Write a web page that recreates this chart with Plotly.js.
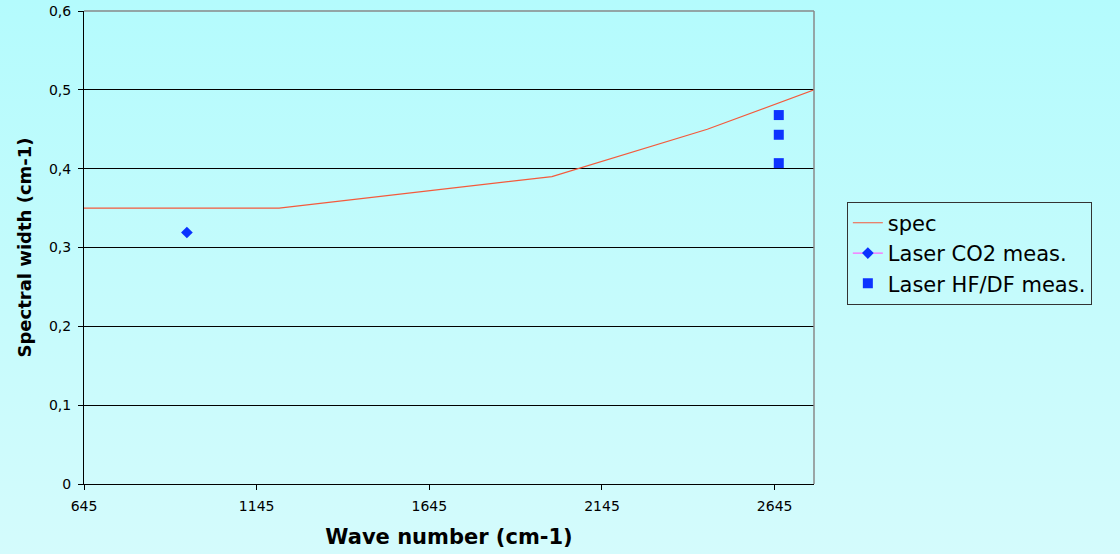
<!DOCTYPE html>
<html>
<head>
<meta charset="utf-8">
<script src="https://cdn.plot.ly/plotly-3.0.1.min.js"></script>
<style>
  html, body { margin: 0; padding: 0; }
  body { width: 1120px; height: 554px; background: linear-gradient(to bottom, #b4fbfd 0%, #c4fbfc 50%, #d4fbfc 100%); }
  #chart { width: 1120px; height: 554px; }
</style>
</head>
<body>
<div id="chart"></div>
<script>
// Data
const specX = [645, 1210, 2000, 2450, 2760];
const specY = [0.35, 0.35, 0.39, 0.45, 0.50];
const co2X = [943];
const co2Y = [0.319];
const hfX = [2657, 2657, 2657];
const hfY = [0.468, 0.443, 0.407];

const xTickVals = [645, 1145, 1645, 2145, 2645];
const xTickText = ['645', '1145', '1645', '2145', '2645'];
const yTickVals = [0, 0.1, 0.2, 0.3, 0.4, 0.5, 0.6];
const yTickText = ['0', '0,1', '0,2', '0,3', '0,4', '0,5', '0,6'];

const FONT = 'DejaVu Sans, Liberation Sans, Arial, sans-serif';

const traces = [
  { x: specX, y: specY, name: 'spec', type: 'scatter', mode: 'lines',
    line: { color: '#f45a3c', width: 1.2 } },
  { x: co2X, y: co2Y, name: 'Laser CO2 meas.', type: 'scatter', mode: 'lines+markers',
    line: { color: '#ff66ff', width: 1.2 },
    marker: { symbol: 'diamond', size: 9, color: '#0a32ff' } },
  { x: hfX, y: hfY, name: 'Laser HF/DF meas.', type: 'scatter', mode: 'markers',
    marker: { symbol: 'square', size: 10, color: '#0d33ff' } }
];

const layout = {
  width: 1120, height: 554,
  paper_bgcolor: 'rgba(0,0,0,0)',
  plot_bgcolor: 'rgba(0,0,0,0)',
  margin: { l: 84, r: 306, t: 11, b: 70 },
  font: { family: FONT, color: '#000' },
  showlegend: true,
  legend: {
    x: 1.045, xanchor: 'left', y: 0.597, yanchor: 'top',
    bgcolor: 'rgba(0,0,0,0)', bordercolor: '#333', borderwidth: 1,
    font: { family: FONT, size: 21, color: '#000' },
    tracegroupgap: 0
  },
  xaxis: {
    range: [645, 2759],
    tickvals: xTickVals, ticktext: xTickText,
    ticks: 'outside', ticklen: 5, tickcolor: '#000', tickwidth: 1,
    showgrid: false, zeroline: false,
    showline: true, linecolor: '#000', linewidth: 1,
    tickfont: { family: FONT, size: 14, color: '#000' },
    ticklabelstandoff: 4,
    title: { text: '<b>Wave number (cm-1)</b>', font: { family: FONT, size: 21, color: '#000' }, standoff: 16 }
  },
  yaxis: {
    range: [0, 0.6],
    tickvals: yTickVals, ticktext: yTickText,
    ticks: 'outside', ticklen: 5, tickcolor: '#000', tickwidth: 1,
    showgrid: true, gridcolor: '#000', gridwidth: 1,
    zeroline: false,
    showline: true, linecolor: '#000', linewidth: 1,
    tickfont: { family: FONT, size: 14, color: '#000' },
    ticklabelstandoff: 4,
    title: { text: '<b>Spectral width (cm-1)</b>', font: { family: FONT, size: 18, color: '#000' }, standoff: 12 }
  },
  shapes: [
    { type: 'line', xref: 'paper', yref: 'paper', x0: 0, x1: 1, y0: 1, y1: 1,
      line: { color: '#888', width: 1.5 } },
    { type: 'line', xref: 'paper', yref: 'paper', x0: 1, x1: 1, y0: 0, y1: 1,
      line: { color: '#888', width: 1.5 } }
  ]
};

Plotly.newPlot('chart', traces, layout, { displayModeBar: false, staticPlot: true });
</script>
</body>
</html>
